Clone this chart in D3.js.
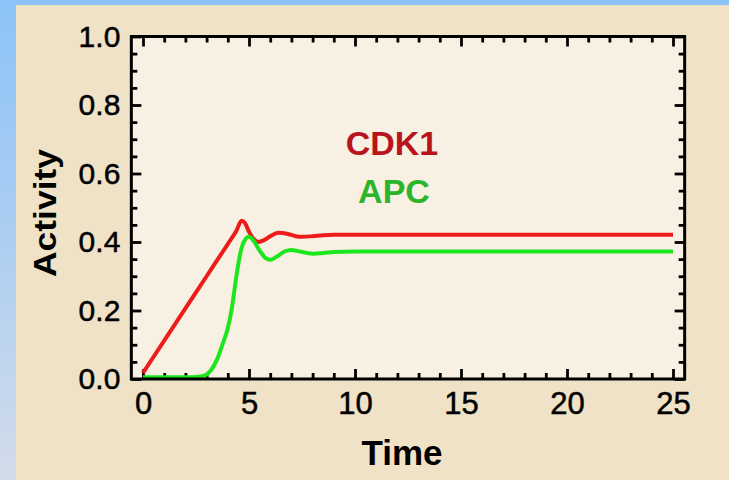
<!DOCTYPE html>
<html>
<head>
<meta charset="utf-8">
<script src="https://cdn.jsdelivr.net/npm/d3@7"></script>
<style>
  html, body { margin: 0; padding: 0; overflow: hidden; background: #ffffff; }
  svg { display: block; }
</style>
</head>
<body>
<svg id="chart" width="729" height="480"></svg>
<script>
// CDK1 activity over time
const cdk1Time  = [0, 1, 2, 3, 4, 4.4, 4.65, 4.8, 5.0, 5.2, 5.45, 5.7, 6.0, 6.4, 6.8, 7.2, 7.5, 8.0, 8.5, 9, 10, 15, 20, 25];
const cdk1Value = [0.018, 0.112, 0.206, 0.300, 0.394, 0.432, 0.462, 0.456, 0.430, 0.410, 0.400, 0.405, 0.417, 0.427, 0.424, 0.417, 0.415, 0.417, 0.420, 0.421, 0.421, 0.421, 0.421, 0.421];

// APC activity over time
const apcTime  = [0, 1, 2, 2.5, 2.9, 3.2, 3.5, 3.8, 4.0, 4.2, 4.4, 4.6, 4.8, 5.0, 5.2, 5.5, 5.8, 6.0, 6.3, 6.7, 7.0, 7.4, 8.0, 8.5, 9, 10, 15, 20, 25];
const apcValue = [0.005, 0.005, 0.005, 0.006, 0.010, 0.025, 0.058, 0.110, 0.148, 0.210, 0.298, 0.370, 0.405, 0.415, 0.405, 0.375, 0.352, 0.348, 0.357, 0.373, 0.377, 0.372, 0.366, 0.368, 0.371, 0.372, 0.372, 0.372, 0.372];

// Axis ticks and labels
const xMajorTicks = [0, 5, 10, 15, 20, 25];
const xMinorTicks = [1, 2, 3, 4, 6, 7, 8, 9, 11, 12, 13, 14, 16, 17, 18, 19, 21, 22, 23, 24];
const yMajorTicks = [0, 0.2, 0.4, 0.6, 0.8, 1.0];
const yMinorTicks = [0.05, 0.1, 0.15, 0.25, 0.3, 0.35, 0.45, 0.5, 0.55, 0.65, 0.7, 0.75, 0.85, 0.9, 0.95];
const yTickLabels = ["0.0", "0.2", "0.4", "0.6", "0.8", "1.0"];
const seriesNames = ["CDK1", "APC"];
const xTitle = "Time";
const yTitle = "Activity";

const svg = d3.select("#chart");
const W = 729, H = 480;
const FONT = "'Liberation Sans', Arial, Helvetica, sans-serif";

// Backdrop: blue gradient edge with a tan panel
const defs = svg.append("defs");
const grad = defs.append("linearGradient")
  .attr("id", "edgeGrad").attr("x1", 0).attr("y1", 0).attr("x2", 0).attr("y2", 1);
grad.append("stop").attr("offset", "0%").attr("stop-color", "#8dc3f8");
grad.append("stop").attr("offset", "45%").attr("stop-color", "#a9cdf2");
grad.append("stop").attr("offset", "100%").attr("stop-color", "#d3dcea");
svg.append("rect").attr("width", W).attr("height", H).attr("fill", "url(#edgeGrad)");
svg.append("rect").attr("x", 16).attr("y", 5).attr("width", W - 16).attr("height", H - 5)
  .attr("fill", "#f0e2c6");

// Scales
const x = d3.scaleLinear().domain([0, 25]).range([143, 673]);
const y = d3.scaleLinear().domain([0, 1]).range([379, 36.5]);
const frameLeft = x(-0.55), frameRight = x(25.55);
const frameTop = y(1), frameBottom = y(0);

// Plot area
svg.append("rect")
  .attr("x", frameLeft).attr("y", frameTop)
  .attr("width", frameRight - frameLeft).attr("height", frameBottom - frameTop)
  .attr("fill", "#f8f0e2");

// Inward ticks on all four sides
function styleTicks(g) {
  g.select(".domain").remove();
  g.selectAll(".tick line").attr("stroke", "#000").attr("stroke-width", 2.8);
}
function noLabels(g) { g.selectAll(".tick text").remove(); }
function labelStyle(sel, size) {
  sel.attr("font-family", FONT).attr("font-size", size).attr("fill", "#000")
     .attr("stroke", "#000").attr("stroke-width", 0.5);
}

const axes = svg.append("g");
// bottom
axes.append("g").attr("transform", `translate(0,${frameBottom})`)
  .call(d3.axisBottom(x).tickValues(xMinorTicks).tickSizeInner(-6).tickSizeOuter(0))
  .call(styleTicks).call(noLabels);
const xAxisBottom = axes.append("g").attr("transform", `translate(0,${frameBottom})`)
  .call(d3.axisBottom(x).tickValues(xMajorTicks).tickSizeInner(-10).tickSizeOuter(0)
        .tickPadding(13).tickFormat(d3.format("d")))
  .call(styleTicks);
labelStyle(xAxisBottom.selectAll(".tick text"), 31);
// top
axes.append("g").attr("transform", `translate(0,${frameTop})`)
  .call(d3.axisTop(x).tickValues(xMinorTicks).tickSizeInner(-6).tickSizeOuter(0))
  .call(styleTicks).call(noLabels);
axes.append("g").attr("transform", `translate(0,${frameTop})`)
  .call(d3.axisTop(x).tickValues(xMajorTicks).tickSizeInner(-10).tickSizeOuter(0))
  .call(styleTicks).call(noLabels);
// left
axes.append("g").attr("transform", `translate(${frameLeft},0)`)
  .call(d3.axisLeft(y).tickValues(yMinorTicks).tickSizeInner(-6).tickSizeOuter(0))
  .call(styleTicks).call(noLabels);
const yAxisLeft = axes.append("g").attr("transform", `translate(${frameLeft},0)`)
  .call(d3.axisLeft(y).tickValues(yMajorTicks).tickSizeInner(-10).tickSizeOuter(0)
        .tickPadding(11).tickFormat((d, i) => yTickLabels[i]))
  .call(styleTicks);
labelStyle(yAxisLeft.selectAll(".tick text"), 30);
// right
axes.append("g").attr("transform", `translate(${frameRight},0)`)
  .call(d3.axisRight(y).tickValues(yMinorTicks).tickSizeInner(-6).tickSizeOuter(0))
  .call(styleTicks).call(noLabels);
axes.append("g").attr("transform", `translate(${frameRight},0)`)
  .call(d3.axisRight(y).tickValues(yMajorTicks).tickSizeInner(-10).tickSizeOuter(0))
  .call(styleTicks).call(noLabels);

// Curves
const line = d3.line()
  .x(d => x(d[0])).y(d => y(d[1]))
  .curve(d3.curveMonotoneX);

svg.append("path")
  .datum(cdk1Time.map((t, i) => [t, cdk1Value[i]]))
  .attr("d", line)
  .attr("fill", "none").attr("stroke", "#ee1b1b").attr("stroke-width", 4)
  .attr("stroke-linejoin", "round");

svg.append("path")
  .datum(apcTime.map((t, i) => [t, apcValue[i]]))
  .attr("d", line)
  .attr("fill", "none").attr("stroke", "#1ee61e").attr("stroke-width", 4)
  .attr("stroke-linejoin", "round");

// Frame
svg.append("rect")
  .attr("x", frameLeft).attr("y", frameTop)
  .attr("width", frameRight - frameLeft).attr("height", frameBottom - frameTop)
  .attr("fill", "none").attr("stroke", "#000").attr("stroke-width", 3);

// Series labels
svg.append("text")
  .attr("x", 392).attr("y", 155).attr("text-anchor", "middle")
  .attr("font-family", FONT).attr("font-weight", "bold").attr("font-size", 34)
  .attr("fill", "#b8141d").text(seriesNames[0]);
svg.append("text")
  .attr("x", 394).attr("y", 203).attr("text-anchor", "middle")
  .attr("font-family", FONT).attr("font-weight", "bold").attr("font-size", 34)
  .attr("fill", "#2ab52a").text(seriesNames[1]);

// Axis titles
svg.append("text")
  .attr("x", 402).attr("y", 465).attr("text-anchor", "middle")
  .attr("font-family", FONT).attr("font-weight", "bold").attr("font-size", 35)
  .attr("fill", "#000").text(xTitle);
svg.append("text")
  .attr("transform", "translate(56,213) rotate(-90)")
  .attr("text-anchor", "middle")
  .attr("font-family", FONT).attr("font-weight", "bold").attr("font-size", 31)
  .attr("textLength", 128).attr("lengthAdjust", "spacingAndGlyphs")
  .attr("fill", "#000").text(yTitle);
</script>
</body>
</html>
